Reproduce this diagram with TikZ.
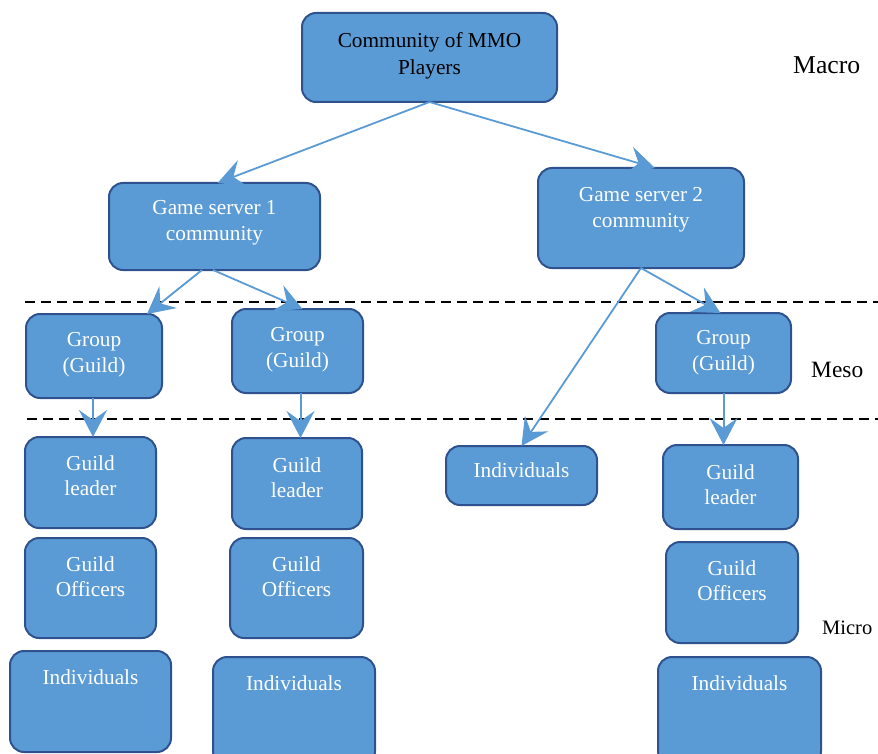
\documentclass[tikz,border=0pt]{standalone}
\usepackage{fontspec}
\setmainfont{Liberation Serif}
\usetikzlibrary{arrows.meta}
\definecolor{boxfill}{HTML}{5B9BD5}
\definecolor{boxline}{HTML}{2F528F}
\definecolor{arrowc}{HTML}{5B9BD5}
\newcommand\mybox[5]{\node[box, minimum width={(#3-#2)*1pt}, minimum height={(#5-#4)*1pt}] (#1) at ({(#2+#3)/2},{(#4+#5)/2}) {};}
\tikzset{
  box/.style={draw=boxline, line width=2pt, fill=boxfill, rounded corners=14pt, inner sep=0pt, outer sep=0pt},
  txt/.style={text=white, font=\fontsize{21.3}{25.5}\selectfont, align=center, inner sep=0pt, anchor=north},
  conn/.style={draw=arrowc, line width=1.8pt, -{Stealth[length=27pt, width=28pt, inset=10pt]}},
  level/.style={draw=black, line width=2.5pt, dash pattern=on 10pt off 6pt},
  lab/.style={text=black, inner sep=0pt, anchor=base west}
}
\begin{document}
\begin{tikzpicture}[x=1pt, y=-1pt]
\useasboundingbox (0,0) rectangle (878,754);
% dashed level lines
\coordinate (d1a) at (25,302); \coordinate (d1b) at (878,302);
\coordinate (d2a) at (27,419); \coordinate (d2b) at (878,419);
\draw[level] (d1a) -- (d1b);
\draw[level] (d2a) -- (d2b);
% boxes
\mybox{comm}{302}{557}{13}{102}
\mybox{gs1}{109}{320}{183}{270}
\mybox{gs2}{538}{744}{168}{268}
\mybox{g1}{26}{162}{314}{398}
\mybox{g2}{232}{363}{309}{393}
\mybox{g3}{656}{791}{313}{393}
\mybox{gl1}{25}{156}{437}{528}
\mybox{gl2}{232}{362}{438}{529}
\mybox{indm}{446}{597}{446}{505}
\mybox{gl3}{663}{798}{445}{529}
\mybox{go1}{25}{156}{538}{638}
\mybox{go2}{230}{363}{538}{638}
\mybox{go3}{666}{798}{542}{643}
\mybox{ind1}{10}{171}{651}{752}
\mybox{ind2}{213}{375}{657}{765}
\mybox{ind3}{658}{821}{657}{765}
% texts
\node[txt, text=black, font=\fontsize{21.3}{26.5}\selectfont] (tcomm) at (429.5,32.5) {Community of MMO\\Players};
\node[txt] (tgs1) at (214.5,200.5) {Game server 1\\community};
\node[txt] (tgs2) at (641,187.5) {Game server 2\\community};
\node[txt] (tg1) at (94,332.5) {Group\\(Guild)};
\node[txt] (tg2) at (297.5,327.5) {Group\\(Guild)};
\node[txt] (tg3) at (723.5,330.5) {Group\\(Guild)};
\node[txt] (tgl1) at (90.5,455.5) {Guild\\leader};
\node[txt] (tgl2) at (297,457.5) {Guild\\leader};
\node[txt] (tindm) at (521.5,462.5) {Individuals};
\node[txt] (tgl3) at (730.5,464.5) {Guild\\leader};
\node[txt] (tgo1) at (90.5,556.5) {Guild\\Officers};
\node[txt] (tgo2) at (296.5,556.5) {Guild\\Officers};
\node[txt] (tgo3) at (732,560.5) {Guild\\Officers};
\node[txt] (tind1) at (90.5,669.5) {Individuals};
\node[txt] (tind2) at (294,675.5) {Individuals};
\node[txt] (tind3) at (739.5,675.5) {Individuals};
% level labels
\node[lab, font=\fontsize{25.7}{28}\selectfont] (macro) at (793,74) {Macro};
\node[lab, font=\fontsize{23.4}{26}\selectfont] (meso) at (811,377) {Meso};
\node[lab, font=\fontsize{20.5}{23}\selectfont] (micro) at (822,634) {Micro};
% connectors
\draw[conn] (comm.south) -- ([xshift=3pt]gs1.north);
\draw[conn] (comm.south) -- ([xshift=14pt]gs2.north);
\draw[conn] ([xshift=-12.5pt]gs1.south) -- ([xshift=53pt]g1.north);
\draw[conn] ([xshift=-1.5pt]gs1.south) -- ([xshift=5pt]g2.north);
\draw[conn] (gs2.south) -- (indm.north);
\draw[conn] (gs2.south) -- ([xshift=-3pt]g3.north);
\draw[conn, line width=2pt] ([xshift=-1pt]g1.south) -- ([xshift=-1pt]g1.south |- gl1.north);
\draw[conn, line width=2pt] ([xshift=3pt]g2.south) -- ([xshift=3pt]g2.south |- gl2.north);
\draw[conn, line width=2pt] (g3.south) -- (g3.south |- gl3.north);
\end{tikzpicture}
\end{document}
